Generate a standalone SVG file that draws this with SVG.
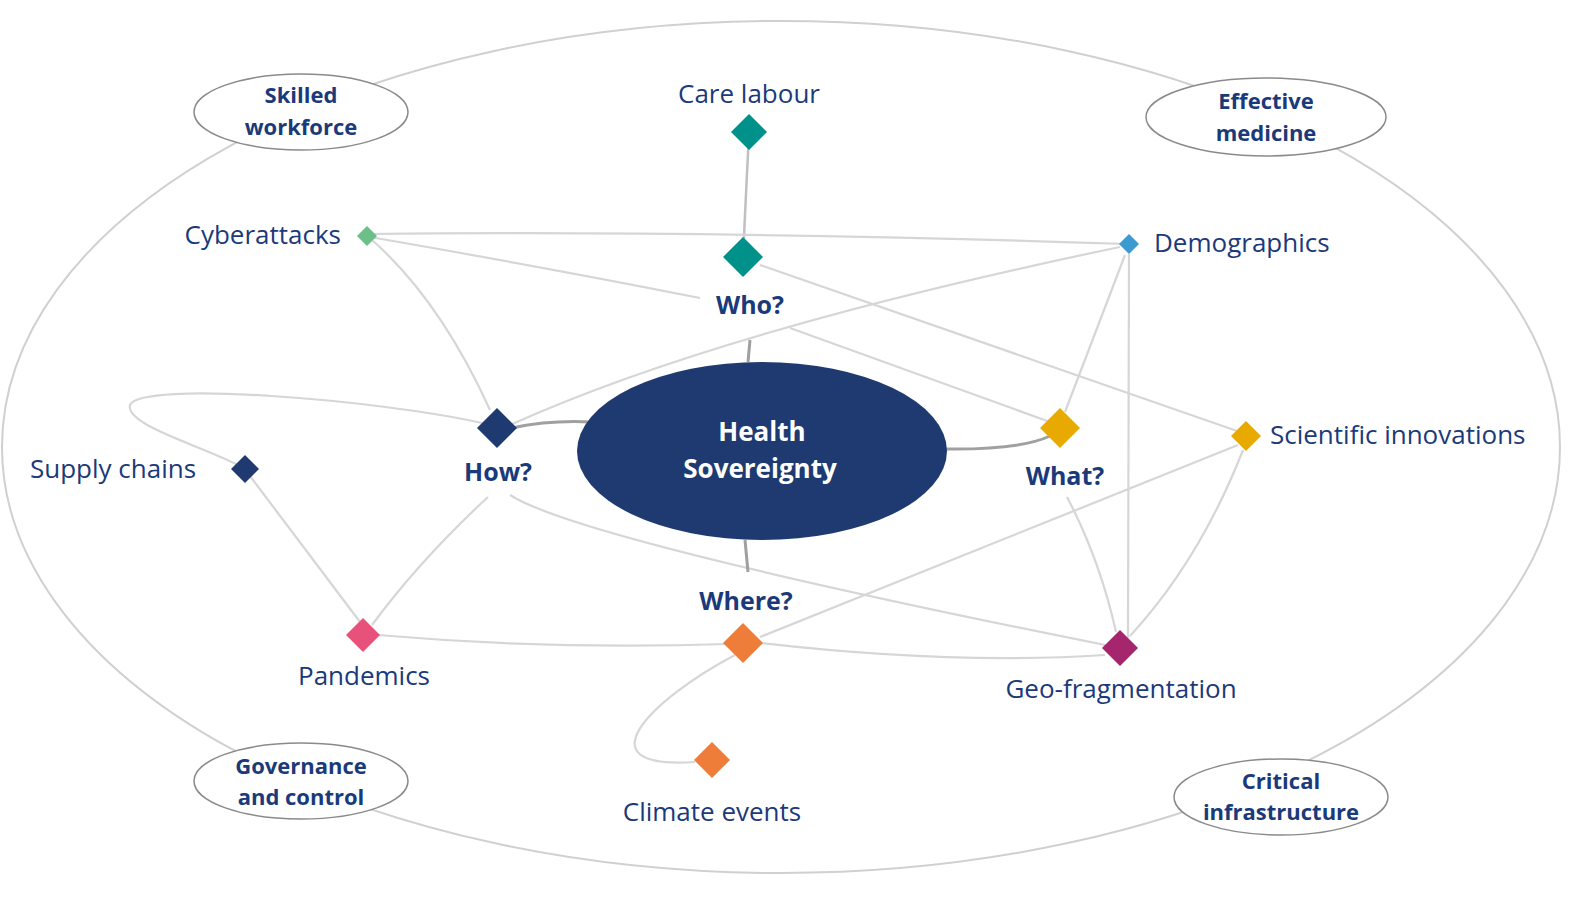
<svg xmlns="http://www.w3.org/2000/svg" width="1590" height="907" viewBox="0 0 1590 907">
<style>
.c{fill:none;stroke:#d6d6d6;stroke-width:2.2}
.k{fill:none;stroke:#a0a0a0;stroke-width:3}
.l{font-family:"Open Sans",Lato,sans-serif;font-size:26px;fill:#1b3a7a}
.q{font-family:"Open Sans",Lato,sans-serif;font-size:25px;font-weight:bold;fill:#1b3a7a;text-anchor:middle}
.e{font-family:"Open Sans",Lato,sans-serif;font-size:22px;font-weight:bold;fill:#1b3a7a;text-anchor:middle}
.s{fill:#fff;stroke:#8a8a8a;stroke-width:1.5}
</style>
<rect width="1590" height="907" fill="#fff"/>
<ellipse cx="781" cy="447" rx="779" ry="426" fill="none" stroke="#d0d0d0" stroke-width="2"/>
<g id="connectors">
<path class="c" d="M749,132 L743,257" style="stroke:#c0c0c0;stroke-width:2.5"/>
<path class="c" d="M370,234 Q700,230 1129,244"/>
<path class="c" d="M370,237 Q560,270 700,298"/>
<path class="c" d="M790,328 L1050,422"/>
<path class="c" d="M372,240 Q440,300 490,410"/>
<path class="c" d="M760,265 L1240,432"/>
<path class="c" d="M1120,247 Q720,330 510,425"/>
<path class="c" d="M1125,255 L1065,412"/>
<path class="c" d="M1129,254 L1128,638"/>
<path class="c" d="M482,423 C380,400 140,380 130,405 C125,425 200,445 240,466"/>
<path class="c" d="M250,476 L360,622"/>
<path class="c" d="M488,497 Q420,560 372,625"/>
<path class="c" d="M510,495 Q580,540 1110,646"/>
<path class="c" d="M378,635 Q550,650 728,644"/>
<path class="c" d="M760,643 Q950,665 1105,655"/>
<path class="c" d="M1238,445 L760,637"/>
<path class="c" d="M1243,450 Q1200,560 1130,636"/>
<path class="c" d="M1067,497 Q1100,560 1116,632"/>
<path class="c" d="M735,655 C650,700 580,770 695,762"/>
<path class="k" d="M750,340 L748,362"/>
<path class="k" d="M512,428 Q550,420 590,422"/>
<path class="k" d="M945,449 Q1020,450 1050,436"/>
<path class="k" d="M745,540 L748,572"/>
</g>
<g id="center"><ellipse cx="762" cy="451" rx="185" ry="89" fill="#1e3a70"/>
<text class="q" x="762" y="441" style="fill:#fff;font-size:26px">Health</text>
<text class="q" x="760" y="478" style="fill:#fff;font-size:26px">Sovereignty</text></g>
<g id="skilled"><ellipse class="s" cx="301" cy="112" rx="107" ry="38"/><text class="e" x="301" y="103">Skilled</text><text class="e" x="301" y="135">workforce</text></g>
<g id="effective"><ellipse class="s" cx="1266" cy="117" rx="120" ry="39"/><text class="e" x="1266" y="109">Effective</text><text class="e" x="1266" y="141">medicine</text></g>
<g id="governance"><ellipse class="s" cx="301" cy="781" rx="107" ry="38"/><text class="e" x="301" y="774">Governance</text><text class="e" x="301" y="805">and control</text></g>
<g id="critical"><ellipse class="s" cx="1281" cy="797" rx="107" ry="38"/><text class="e" x="1281" y="789">Critical</text><text class="e" x="1281" y="820">infrastructure</text></g>
<g id="care"><path d="M749,114 L767,132 L749,150 L731,132Z" fill="#00928a"/><text class="l" x="749" y="103" text-anchor="middle">Care labour</text></g>
<g id="who"><path d="M743,237 L763,257 L743,277 L723,257Z" fill="#00928a"/><text class="q" x="750" y="314">Who?</text></g>
<g id="cyber"><path d="M367,226 L377,236 L367,246 L357,236Z" fill="#6dbf8a"/><text class="l" x="341" y="244" text-anchor="end">Cyberattacks</text></g>
<g id="demo"><path d="M1129,234 L1139,244 L1129,254 L1119,244Z" fill="#3a9ad1"/><text class="l" x="1154" y="252">Demographics</text></g>
<g id="how"><path d="M497,408 L517,428 L497,448 L477,428Z" fill="#1e3a70"/><text class="q" x="498" y="481">How?</text></g>
<g id="supply"><path d="M245,455 L259,469 L245,483 L231,469Z" fill="#1e3a70"/><text class="l" x="30" y="478">Supply chains</text></g>
<g id="what"><path d="M1060,408 L1080,428 L1060,448 L1040,428Z" fill="#e8a900"/><text class="q" x="1065" y="485">What?</text></g>
<g id="sci"><path d="M1246,421 L1261,436 L1246,451 L1231,436Z" fill="#e8a900"/><text class="l" x="1270" y="444">Scientific innovations</text></g>
<g id="pand"><path d="M363,618 L380,635 L363,652 L346,635Z" fill="#e8527a"/><text class="l" x="364" y="685" text-anchor="middle">Pandemics</text></g>
<g id="where"><path d="M743,623 L763,643 L743,663 L723,643Z" fill="#ef7d3a"/><text class="q" x="746" y="610">Where?</text></g>
<g id="climate"><path d="M712,742 L730,760 L712,778 L694,760Z" fill="#ef7d3a"/><text class="l" x="712" y="821" text-anchor="middle">Climate events</text></g>
<g id="geo"><path d="M1120,630 L1138,648 L1120,666 L1102,648Z" fill="#a6266e"/><text class="l" x="1121" y="698" text-anchor="middle">Geo-fragmentation</text></g>
</svg>
